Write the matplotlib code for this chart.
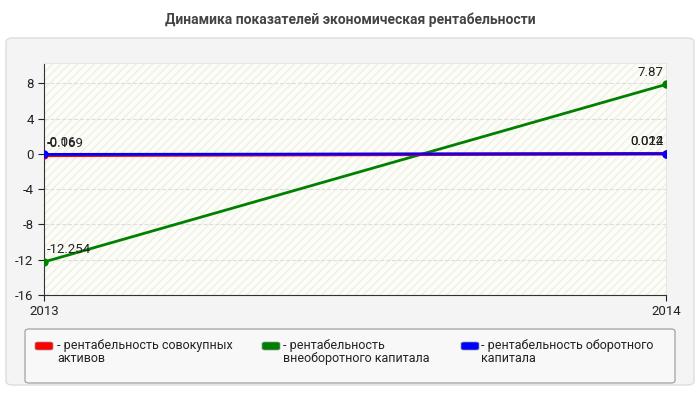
import matplotlib.pyplot as plt
from matplotlib.patches import FancyBboxPatch, Rectangle

plt.rcParams['font.family'] = ['Roboto', 'DejaVu Sans']
plt.rcParams['axes.unicode_minus'] = False

# Данные
years = [2013, 2014]
total_assets = [-0.169, 0.022]
noncurrent = [-12.254, 7.87]
current = [-0.06, 0.014]
series_names = ['рентабельность совокупных\nактивов',
                'рентабельность\nвнеоборотного капитала',
                'рентабельность оборотного\nкапитала']
y_ticks = [-16, -12, -8, -4, 0, 4, 8]

fig = plt.figure(figsize=(7, 4), dpi=100)
fig.patch.set_facecolor('white')

# Фон панели
panel = FancyBboxPatch((6 / 700, 15 / 400), 688 / 700, 347 / 400,
                       boxstyle='round,pad=0,rounding_size=0.01',
                       transform=fig.transFigure, facecolor='#f4f4f4',
                       edgecolor='#dddddd', lw=1, zorder=-5)
fig.patches.append(panel)

fig.text(0.5, 1 - 20 / 400, 'Динамика показателей экономическая рентабельности',
         ha='center', va='center', fontsize=10, fontweight='bold', color='#444444')

ax = fig.add_axes([44 / 700, 105 / 400, 622 / 700, 232 / 400])
ax.set_facecolor('#fdfdf8')
ax.add_patch(Rectangle((0, 0), 1, 1, transform=ax.transAxes, fill=False,
                       hatch='////', edgecolor='#efefe8', lw=0, zorder=0))

ax.plot(years, noncurrent, color='#008000', lw=2, marker='o', ms=5, zorder=3)
ax.plot(years, total_assets, color='#ff0000', lw=2.5, marker='o', ms=5, zorder=4)
ax.plot(years, current, color='#0000ff', lw=2, marker='o', ms=5, zorder=5)

# Подписи значений
for vals in [noncurrent, total_assets, current]:
    ax.annotate(f'{vals[0]:g}', (years[0], vals[0]), xytext=(2, 4),
                textcoords='offset points', ha='left', va='bottom', fontsize=9.5,
                color='#222222')
    ax.annotate(f'{vals[1]:g}', (years[1], vals[1]), xytext=(-2, 4),
                textcoords='offset points', ha='right', va='bottom', fontsize=9.5,
                color='#222222')

ax.set_xlim(2013, 2014)
ax.set_ylim(-16, 10.3)
ax.set_xticks(years)
ax.set_xticklabels([str(y) for y in years])
ax.set_yticks(y_ticks)
ax.grid(axis='y', color='#dddddd', ls='--', lw=0.8)
ax.set_axisbelow(True)
for s in ['top', 'right']:
    ax.spines[s].set_color('#e6e6e6')
for s in ['left', 'bottom']:
    ax.spines[s].set_color('#333333')
ax.tick_params(labelsize=9.5, colors='#222222', length=4)

# Легенда
leg_box = FancyBboxPatch((25 / 700, 17 / 400), 650 / 700, 54 / 400,
                         boxstyle='round,pad=0,rounding_size=0.006',
                         transform=fig.transFigure, facecolor='#f8f8f8',
                         edgecolor='#aaaaaa', lw=1, zorder=-4)
fig.patches.append(leg_box)
colors = ['#ff0000', '#008000', '#0000ff']
for x, c in zip([35, 262, 461], colors):
    fig.patches.append(FancyBboxPatch((x / 700, 1 - 350 / 400), 18 / 700, 8 / 400,
                                      boxstyle='round,pad=0,rounding_size=0.004',
                                      transform=fig.transFigure, facecolor=c,
                                      edgecolor='#999999', lw=0.5))
for x, name in zip([57, 283, 481], series_names):
    fig.text(x / 700, 1 - 339 / 400, '- ' + name, ha='left', va='top',
             fontsize=9, color='#222222', linespacing=1.0)

fig.savefig('out.png', dpi=100)
